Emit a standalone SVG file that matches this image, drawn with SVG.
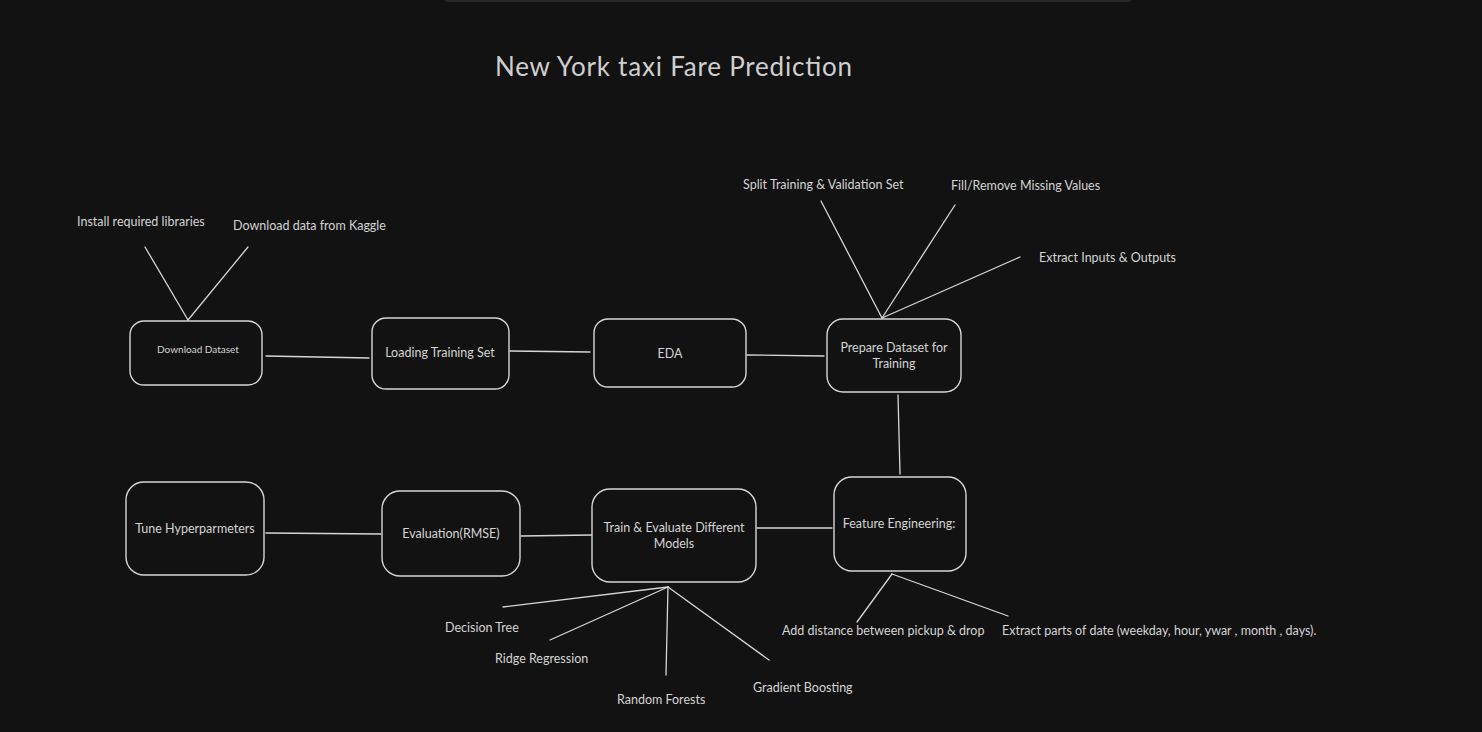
<svg xmlns="http://www.w3.org/2000/svg" width="1482" height="732" viewBox="0 0 1482 732">
<style>
.node rect{fill:#121212;stroke:#d6d6d6;stroke-width:1.4}
.t{font-family:Lato,"Noto Sans",sans-serif;fill:#d4d4d4;font-size:12.5px}
.c{text-anchor:middle}
#connectors line{stroke:#d6d6d6;stroke-width:1.3;stroke-linecap:round}
</style>
<rect width="1482" height="732" fill="#121212"/>
<rect x="444" y="-10" width="688" height="12" rx="4" fill="#27272b"/>
<text x="495" y="76" class="t" style="font-size:26px;fill:#cfcfcf" textLength="357">New York taxi Fare Prediction</text>
<g id="connectors">
<line x1="266" y1="356" x2="369" y2="358"/>
<line x1="510" y1="351" x2="590" y2="352"/>
<line x1="747" y1="355" x2="824" y2="356"/>
<line x1="898" y1="395" x2="900" y2="474"/>
<line x1="757" y1="528" x2="832" y2="528"/>
<line x1="521" y1="536" x2="592" y2="535"/>
<line x1="266" y1="533" x2="381" y2="534"/>
<line x1="188" y1="320" x2="145" y2="247"/>
<line x1="188" y1="320" x2="248" y2="247"/>
<line x1="882" y1="318" x2="821" y2="201"/>
<line x1="882" y1="318" x2="955" y2="205"/>
<line x1="882" y1="318" x2="1020" y2="257"/>
<line x1="668" y1="587" x2="503" y2="607"/>
<line x1="668" y1="587" x2="550" y2="640"/>
<line x1="668" y1="587" x2="666" y2="675"/>
<line x1="668" y1="587" x2="769" y2="660"/>
<line x1="892" y1="574" x2="857" y2="622"/>
<line x1="892" y1="574" x2="1008" y2="616"/>
</g>
<g id="download-dataset" class="node"><rect x="130" y="321" width="132" height="64" rx="14"/><text x="198" y="353" class="t c" style="font-size:10px">Download Dataset</text></g>
<g id="loading-training-set" class="node"><rect x="372" y="318" width="137" height="71" rx="14"/><text x="440" y="357" class="t c">Loading Training Set</text></g>
<g id="eda" class="node"><rect x="594" y="319" width="152" height="68" rx="14"/><text x="670" y="358" class="t c">EDA</text></g>
<g id="prepare-dataset" class="node"><rect x="827" y="319" width="134" height="73" rx="16"/><text x="894" y="352" class="t c">Prepare Dataset for</text><text x="894" y="368" class="t c">Training</text></g>
<g id="feature-engineering" class="node"><rect x="834" y="477" width="132" height="94" rx="18"/><text x="899" y="528" class="t c">Feature Engineering:</text></g>
<g id="train-evaluate" class="node"><rect x="592" y="489" width="164" height="93" rx="18"/><text x="674" y="532" class="t c">Train &amp; Evaluate Different</text><text x="674" y="548" class="t c">Models</text></g>
<g id="evaluation" class="node"><rect x="382" y="491" width="138" height="85" rx="18"/><text x="451" y="538" class="t c">Evaluation(RMSE)</text></g>
<g id="tune-hyperparameters" class="node"><rect x="126" y="482" width="138" height="93" rx="18"/><text x="195" y="533" class="t c">Tune Hyperparmeters</text></g>
<g id="labels">
<text x="77" y="226" class="t">Install required libraries</text>
<text x="233" y="230" class="t">Download data from Kaggle</text>
<text x="743" y="189" class="t">Split Training &amp; Validation Set</text>
<text x="951" y="190" class="t">Fill/Remove Missing Values</text>
<text x="1039" y="262" class="t">Extract Inputs &amp; Outputs</text>
<text x="445" y="632" class="t">Decision Tree</text>
<text x="495" y="663" class="t">Ridge Regression</text>
<text x="617" y="704" class="t">Random Forests</text>
<text x="753" y="692" class="t">Gradient Boosting</text>
<text x="782" y="635" class="t">Add distance between pickup &amp; drop</text>
<text x="1002" y="635" class="t">Extract parts of date (weekday, hour, ywar , month , days).</text>
</g>
</svg>
